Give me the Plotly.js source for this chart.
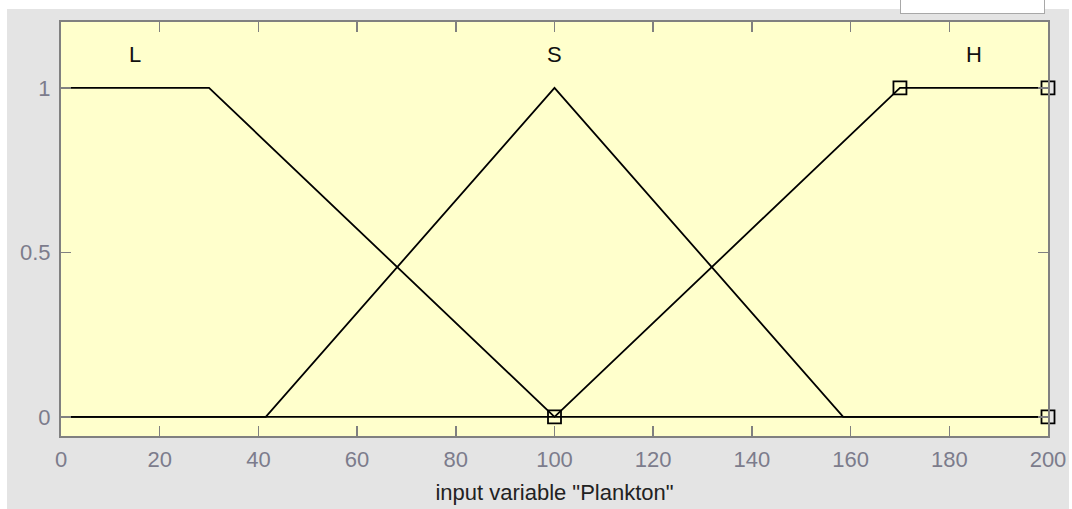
<!DOCTYPE html>
<html>
<head>
<meta charset="utf-8">
<script src="https://cdn.plot.ly/plotly-3.0.1.min.js"></script>
<style>
  html, body { margin: 0; padding: 0; background: #ffffff; width: 1072px; height: 509px; overflow: hidden; }
  #chart { position: absolute; left: 7px; top: 9px; width: 1062px; height: 500px; }
  #box { position: absolute; left: 900px; top: -2px; width: 143px; height: 14px; background: #ffffff; border: 1px solid #a8a8a8; z-index: 10; }
</style>
</head>
<body>
<div id="chart"></div>
<div id="box"></div>
<script>
// Membership functions of input variable "Plankton"
const mfNames = ["L", "S", "H"];
const mfLabelX = [15, 100, 185];
const mfLabelY = 1.1;

const L_x = [0, 30, 100, 200];
const L_y = [1, 1, 0, 0];

const S_x = [0, 41.5, 100, 158.5, 200];
const S_y = [0, 0, 1, 0, 0];

const H_x = [0, 100, 170, 200];
const H_y = [0, 0, 1, 1];

// vertices of the selected MF (H) shown with square markers
const Hv_x = [100, 170, 200, 200];
const Hv_y = [0, 1, 1, 0];

const xTicks = [0, 20, 40, 60, 80, 100, 120, 140, 160, 180, 200];
const yTicks = [0, 0.5, 1];
const yTickText = ["0", "0.5", "1"];
const xTitle = 'input variable "Plankton"';

const lineStyle = { color: "#000000", width: 1.8 };
const traces = [
  { x: L_x, y: L_y, mode: "lines", line: lineStyle, hoverinfo: "skip" },
  { x: S_x, y: S_y, mode: "lines", line: lineStyle, hoverinfo: "skip" },
  { x: H_x, y: H_y, mode: "lines", line: lineStyle, hoverinfo: "skip" },
  { x: Hv_x, y: Hv_y, mode: "markers", hoverinfo: "skip",
    marker: { symbol: "square-open", size: 13, color: "#000000", line: { width: 1.8, color: "#000000" } },
    cliponaxis: false }
];

const fontFam = '"Liberation Sans", Arial, Helvetica, sans-serif';
const layout = {
  width: 1062, height: 500,
  paper_bgcolor: "#e4e4e4",
  plot_bgcolor: "#ffffcc",
  showlegend: false,
  margin: { l: 54, r: 21, t: 13, b: 73 },
  font: { family: fontFam, size: 22, color: "#808080" },
  xaxis: {
    range: [0, 200], tickvals: xTicks, ticktext: xTicks.map(String),
    ticks: "inside", ticklen: 10, tickwidth: 1.5, tickcolor: "#808080",
    showline: true, mirror: "ticks", linecolor: "#808080", linewidth: 2,
    showgrid: false, zeroline: false, ticklabelstandoff: 3,
    tickfont: { family: fontFam, size: 22, color: "#7c7c8c" },
    title: { text: xTitle, font: { family: fontFam, size: 22, color: "#222222" }, standoff: 13 }
  },
  yaxis: {
    range: [-0.058, 1.2], tickvals: yTicks, ticktext: yTickText,
    ticks: "inside", ticklen: 10, tickwidth: 1.5, tickcolor: "#808080",
    showline: true, mirror: "ticks", linecolor: "#808080", linewidth: 2,
    showgrid: false, zeroline: false, ticklabelstandoff: 4,
    tickfont: { family: fontFam, size: 22, color: "#7c7c8c" }
  },
  annotations: mfNames.map((n, i) => ({
    x: mfLabelX[i], y: mfLabelY, xref: "x", yref: "y", text: n, showarrow: false,
    font: { family: fontFam, size: 22, color: "#111111" }
  }))
};

Plotly.newPlot("chart", traces, layout, { displayModeBar: false, staticPlot: true });
</script>
</body>
</html>
